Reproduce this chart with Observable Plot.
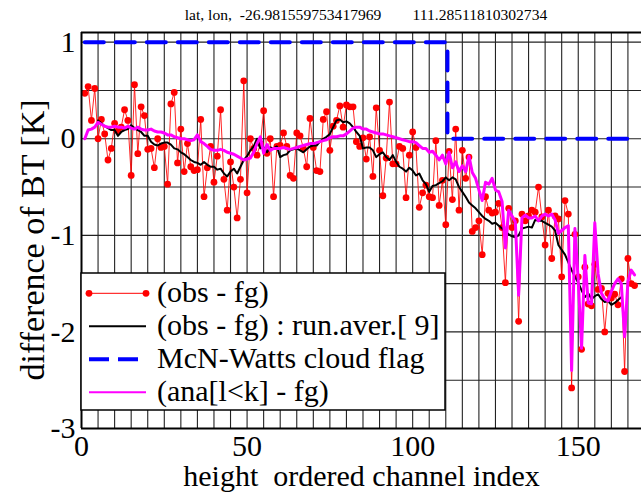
<!DOCTYPE html>
<html><head><meta charset="utf-8">
<script src="https://cdn.jsdelivr.net/npm/d3@7"></script>
<script src="https://cdn.jsdelivr.net/npm/@observablehq/plot@0.6"></script>
<style>
body{margin:0;background:#fff;}
#chart{width:641px;height:492px;overflow:hidden;}
</style></head><body><div id="chart"></div>
<script>
const titleText = "lat, lon,  -26.981559753417969        111.28511810302734";
const xLabel = "height  ordered channel index";
const yLabel = "difference of BT [K]";
const legendLabels = ["(obs - fg)", "(obs - fg) : run.aver.[ 9]", "McN-Watts cloud flag", "(ana[l<k] - fg)"];
const xTicks = [0, 50, 100, 150];
const yTicks = [-3, -2, -1, 0, 1];
const gridX = [5,10,15,20,25,30,35,40,45,50,55,60,65,70,75,80,85,90,95,100,105,110,115,120,125,130,135,140,145,150,155,160,165];
const gridY = [-2.5,-2,-1.5,-1,-0.5,0,0.5,1];

// channel index (1..167)
const channels = d3.range(1, 168);

// (obs - fg)
const obsFg = [
 0.47,0.54,0.19,0.52,0.0,0.2,0.05,-0.22,-0.1,0.16,
 0.08,0.12,0.3,0.19,-0.38,0.56,-0.155,0.33,0.24,-0.11,
 -0.1,-0.3,0.0,-0.09,-0.08,-0.47,0.36,0.48,-0.25,0.1,
 -0.34,-0.05,-0.29,-0.33,-0.32,0.2,-0.6,-0.3,-0.08,-0.45,
 -0.18,0.3,-0.42,-0.74,-0.24,-0.5,-0.82,-0.42,0.6,-0.56,
 0.0,-0.1,-0.17,-0.05,0.29,-0.15,0.0,-0.6,-0.08,-0.07,
 0.06,-0.08,-0.38,-0.41,0.06,0.03,-0.1,-0.29,0.21,-0.09,
 -0.33,-0.34,0.2,0.28,-0.12,0.13,0.19,0.34,0.12,0.35,
 0.33,0.33,-0.03,-0.08,0.01,-0.21,0.02,-0.39,0.32,-0.12,
 -0.59,-0.2,0.38,-0.26,-0.26,-0.08,-0.1,-0.61,-0.17,0.07,
 -0.09,-0.71,-0.56,-0.48,-0.6,-0.61,-0.02,-0.69,-0.43,-0.89,
 -0.13,-0.63,0.1,-0.74,-0.12,-0.41,-0.19,-0.96,-0.92,-0.85,
 -1.2,-0.6,-0.74,-0.77,-0.76,-0.67,-0.92,-1.49,-0.72,-0.92,
 -0.85,-1.89,-0.78,-0.85,-0.8,-0.74,-0.76,-0.5,-0.81,-1.1,
 -0.74,-1.24,-0.8,-0.83,-1.43,-0.64,-0.78,-2.58,-0.99,-1.43,
 -2.18,-1.33,-1.71,-1.73,-1.3,-1.56,-1.55,-2.0,-1.6,-1.65,
 -1.61,-1.72,-1.45,-2.41,-1.24,-1.5,-1.52
];

// (obs - fg) : running average [9], channels 5..163
const runAverX = d3.range(5, 164);
const runAver = [
 0.19,0.16,0.13,0.11,0.09,0.09,0.03,0.07,0.09,0.1,
 0.14,0.11,0.09,0.07,0.03,0.03,-0.03,-0.06,-0.07,-0.05,
 -0.04,-0.04,-0.06,-0.1,-0.11,-0.14,-0.16,-0.19,-0.22,-0.24,
 -0.25,-0.27,-0.24,-0.27,-0.29,-0.29,-0.32,-0.31,-0.36,-0.39,
 -0.34,-0.31,-0.36,-0.29,-0.22,-0.18,-0.12,-0.08,0.0,-0.1,
 -0.09,-0.14,-0.09,-0.1,-0.08,-0.19,-0.17,-0.16,-0.12,-0.11,
 -0.1,-0.12,-0.14,-0.11,-0.08,-0.07,-0.07,-0.03,0.0,0.02,
 0.05,0.12,0.19,0.2,0.17,0.18,0.16,0.12,0.07,0.03,
 -0.1,-0.09,-0.09,-0.12,-0.19,-0.16,-0.14,-0.19,-0.22,-0.17,
 -0.24,-0.29,-0.31,-0.34,-0.3,-0.33,-0.38,-0.36,-0.43,-0.47,
 -0.55,-0.49,-0.48,-0.46,-0.44,-0.4,-0.43,-0.4,-0.42,-0.5,
 -0.55,-0.6,-0.66,-0.69,-0.72,-0.76,-0.8,-0.83,-0.85,-0.88,
 -0.87,-0.9,-0.93,-0.96,-0.99,-1.01,-1.02,-1.0,-0.93,-0.92,
 -0.91,-0.92,-0.84,-0.85,-0.85,-0.87,-0.89,-0.91,-0.95,-1.1,
 -1.15,-1.2,-1.28,-1.36,-1.43,-1.49,-1.57,-1.64,-1.6,-1.66,
 -1.63,-1.61,-1.66,-1.69,-1.68,-1.72,-1.7,-1.67,-1.64
];

// McN-Watts cloud flag
const flagX = [1, 110, 111, 167];
const flagY = [1, 1, 0, 0];

// (ana[l<k] - fg)
const anaFg = [
 0.0,0.09,0.1,0.12,0.17,0.15,0.13,0.12,0.12,0.13,
 0.12,0.12,0.11,0.13,0.11,0.1,0.12,0.1,0.09,0.09,
 0.1,0.08,0.07,0.07,0.06,0.04,0.04,0.02,0.01,0.0,
 0.0,-0.01,-0.02,-0.01,0.04,-0.03,-0.05,-0.08,-0.11,-0.12,
 -0.12,-0.11,-0.12,-0.14,-0.15,-0.16,-0.18,-0.2,-0.22,-0.21,
 -0.2,-0.14,-0.05,0.02,-0.15,-0.06,-0.12,-0.1,-0.1,-0.1,
 -0.09,-0.1,-0.11,-0.1,-0.09,-0.08,-0.07,-0.06,-0.05,-0.05,
 -0.04,-0.03,-0.02,-0.01,0.01,0.02,0.02,0.03,0.03,0.05,
 0.08,0.11,0.12,0.12,0.1,0.1,0.08,0.07,0.06,0.05,
 0.05,0.04,0.03,0.02,0.01,0.0,-0.01,-0.02,-0.03,-0.03,
 -0.04,-0.07,-0.1,-0.1,-0.14,-0.13,-0.17,-0.22,-0.17,-0.26,
 -0.14,-0.3,-0.24,-0.34,-0.28,-0.34,-0.18,-0.35,-0.41,-0.53,
 -0.64,-0.45,-0.47,-0.41,-0.53,-0.55,-0.65,-1.13,-0.74,-0.8,
 -0.86,-1.62,-0.82,-0.79,-0.82,-0.82,-0.8,-0.85,-0.8,-0.78,
 -0.8,-0.78,-0.84,-0.98,-0.95,-0.92,-0.9,-2.4,-0.93,-1.47,
 -2.17,-1.21,-1.7,-1.71,-0.87,-1.4,-1.6,-1.66,-1.68,-1.58,
 -1.5,-1.45,-1.5,-2.05,-1.48,-1.36,-1.41
];

const serif = "'Liberation Serif', 'Times New Roman', serif";
const red = "#ff0000", blue = "#0000ff", magenta = "#ff00ff";

const svg = Plot.plot({
  width: 641, height: 492,
  marginLeft: 81, marginRight: 0, marginTop: 32, marginBottom: 64,
  style: {fontFamily: serif, background: "#fff", overflow: "hidden"},
  x: {domain: [0, 169.1]},
  y: {domain: [-3, 1.1]},
  marks: [
    Plot.ruleX(gridX, {stroke: "#222", strokeWidth: 1.1}),
    Plot.ruleY(gridY, {stroke: "#222", strokeWidth: 1.1}),
    Plot.line(obsFg, {x: (d, i) => channels[i], y: d => d, stroke: red, strokeWidth: 1, strokeOpacity: 0.85}),
    Plot.dot(obsFg, {x: (d, i) => channels[i], y: d => d, r: 3.4, fill: red}),
    Plot.line(runAver, {x: (d, i) => runAverX[i], y: d => d, stroke: "#000", strokeWidth: 2}),
    Plot.line(flagY, {x: (d, i) => flagX[i], y: d => d, curve: "step", stroke: blue, strokeWidth: 4, strokeDasharray: "19,12"}),
    Plot.line(anaFg, {x: (d, i) => channels[i], y: d => d, stroke: magenta, strokeWidth: 3}),
    Plot.ruleX([0], {stroke: "#000", strokeWidth: 2}),
    Plot.ruleY([-3, 1.1], {stroke: "#000", strokeWidth: 2}),
    Plot.axisX(xTicks, {tickSize: 0, tickPadding: 6, fontSize: 30, label: null, tickFormat: d => String(d)}),
    Plot.axisY(yTicks, {tickSize: 0, tickPadding: 6, fontSize: 30, label: null, tickFormat: d => String(d)})
  ]
});

const s = d3.select(svg);
function addText(x, y, size, str, anchor, transform) {
  const t = s.append("text").attr("font-size", size).attr("font-family", serif)
    .attr("text-anchor", anchor).attr("fill", "#000")
    .style("white-space", "pre").attr("xml:space", "preserve").text(str);
  if (transform) t.attr("transform", transform); else t.attr("x", x).attr("y", y);
  return t;
}
// title
addText(366, 20, 15.6, titleText, "middle");
// x label
addText(361.5, 486, 30, xLabel, "middle");
// y label
addText(0, 0, 34, yLabel, "middle", "translate(44,240) rotate(-90)");

// legend
const lg = s.append("g");
lg.append("rect").attr("x", 81).attr("y", 273).attr("width", 364).attr("height", 137)
  .attr("fill", "#fff").attr("stroke", "#000").attr("stroke-width", 1.5);
const rowsY = [293.3, 326.3, 359.3, 392.3];
lg.append("line").attr("x1", 89).attr("x2", 146).attr("y1", rowsY[0]).attr("y2", rowsY[0]).attr("stroke", red).attr("stroke-width", 1);
lg.append("circle").attr("cx", 89).attr("cy", rowsY[0]).attr("r", 3.4).attr("fill", red);
lg.append("circle").attr("cx", 146).attr("cy", rowsY[0]).attr("r", 3.4).attr("fill", red);
lg.append("line").attr("x1", 89).attr("x2", 146).attr("y1", rowsY[1]).attr("y2", rowsY[1]).attr("stroke", "#000").attr("stroke-width", 2);
lg.append("line").attr("x1", 89).attr("x2", 138).attr("y1", rowsY[2]).attr("y2", rowsY[2]).attr("stroke", blue).attr("stroke-width", 4).attr("stroke-dasharray", "20,9");
lg.append("line").attr("x1", 89).attr("x2", 146).attr("y1", rowsY[3]).attr("y2", rowsY[3]).attr("stroke", magenta).attr("stroke-width", 2);
legendLabels.forEach((t, i) => {
  lg.append("text").attr("x", 157).attr("y", rowsY[i] + 9).attr("font-size", 30)
    .attr("font-family", serif).attr("text-anchor", "start").attr("fill", "#000")
    .style("white-space", "pre").attr("xml:space", "preserve").text(t);
});

document.getElementById("chart").appendChild(svg);
</script>
</body></html>
